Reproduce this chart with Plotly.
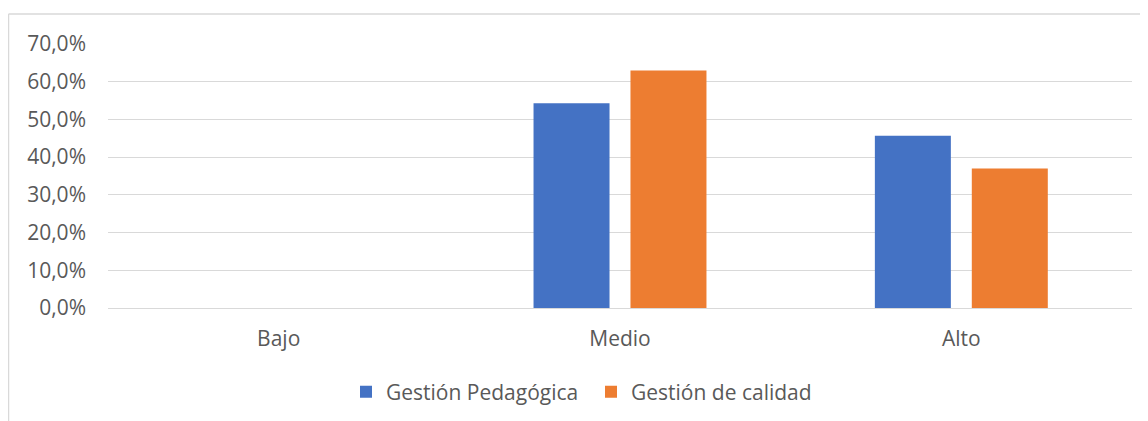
import plotly.graph_objects as go

categories = ["Bajo", "Medio", "Alto"]
gestion_pedagogica = [0.0, 0.543, 0.457]
gestion_calidad = [0.0, 0.630, 0.370]
series_names = ["Gestión Pedagógica", "Gestión de calidad"]
y_ticks = [0.0, 0.1, 0.2, 0.3, 0.4, 0.5, 0.6, 0.7]

# page body has an 8px margin; compensate so screen positions match
OFF = 8
W, H = 1148, 421
L, T = 108 - OFF, 44 - OFF
pw, ph = 1024, 264
R, B = W - L - pw, H - T - ph

def px_x(x):
    return (x - OFF - L) / pw

def px_y(y):
    return (T + ph - (y - OFF)) / ph

font = "Open Sans"
txt = "#595959"
fs = 21

fig = go.Figure()
fig.add_trace(go.Bar(x=categories, y=gestion_pedagogica, name=series_names[0],
                     marker=dict(color="#4472C4", line=dict(width=0))))
fig.add_trace(go.Bar(x=categories, y=gestion_calidad, name=series_names[1],
                     marker=dict(color="#ED7D31", line=dict(width=0))))

fig.update_layout(
    width=W, height=H,
    margin=dict(l=L, r=R, t=T, b=B, autoexpand=False),
    paper_bgcolor="white", plot_bgcolor="white",
    separators=",.",
    barmode="group", bargap=0.432, bargroupgap=0.216,
    font=dict(family=font, color=txt, size=fs),
    showlegend=True,
    legend=dict(orientation="h", x=px_x(346), xanchor="left", y=px_y(392), yanchor="middle",
                font=dict(size=fs, color=txt), traceorder="normal",
                entrywidth=200, entrywidthmode="pixels"),
    xaxis=dict(showgrid=False, showline=False, zeroline=False, ticks="",
               tickfont=dict(size=fs, color=txt), ticklabelstandoff=16),
    yaxis=dict(range=[0, 0.7], tickvals=y_ticks, tickformat=".1%",
               showgrid=True, gridcolor="#D9D9D9", gridwidth=1.3,
               zeroline=True, zerolinecolor="#D9D9D9", zerolinewidth=1.3,
               showline=False, ticks="", tickfont=dict(size=fs, color=txt),
               ticklabelstandoff=21),
    shapes=[
        dict(type="line", xref="paper", yref="paper", x0=px_x(8.5), x1=px_x(1170),
             y0=px_y(14), y1=px_y(14), line=dict(color="#D9D9D9", width=1.5)),
        dict(type="line", xref="paper", yref="paper", x0=px_x(8.5), x1=px_x(8.5),
             y0=px_y(14), y1=px_y(440), line=dict(color="#D9D9D9", width=1.5)),
    ],
)

fig.write_html("out.html")
